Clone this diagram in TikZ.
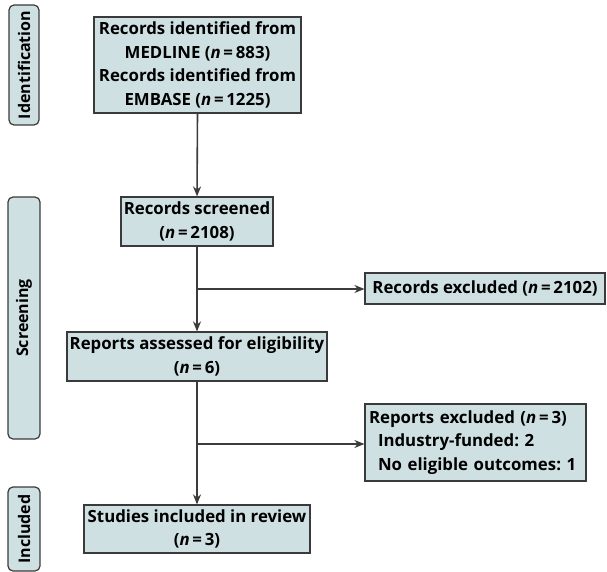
\documentclass[tikz,border=0pt]{standalone}
\usepackage{fontspec}
\setmainfont{Open Sans}
\usetikzlibrary{arrows.meta}
\frenchspacing
\definecolor{boxfill}{HTML}{CFE0E3}
\definecolor{boxline}{HTML}{3A3A3A}
\definecolor{arrowc}{HTML}{3C3C3C}
\tikzset{
  box/.style={draw=boxline, fill=boxfill, line width=1.2pt, inner sep=0pt,
    font=\fontsize{16.8}{23.5}\selectfont\bfseries, align=center},
  phase/.style={draw=boxline, fill=boxfill, line width=1.2pt, rounded corners=5pt,
    inner sep=0pt, font=\fontsize{16}{18}\selectfont\bfseries, rotate=90},
  arr/.style={draw=arrowc, line width=1.6pt, -{Stealth[length=10pt,width=8pt]}},
  ln/.style={draw=arrowc, line width=1.6pt}
}
\newcommand{\nn}{\textit{n}\,=\,}
\begin{document}
\begin{tikzpicture}[x=1pt,y=-1pt]
\useasboundingbox (0,0) rectangle (607,572);
% phase labels
\node[phase, minimum width=120pt, minimum height=30pt] (pid) at (24,65) {Identification};
\node[phase, minimum width=242pt, minimum height=32pt] (psc) at (24,318) {Screening};
\node[phase, minimum width=84pt, minimum height=32pt] (pin) at (24,529) {Included};
% main boxes
\node[box, minimum width=207pt, minimum height=96pt] (ident) at (197.5,65)
  {Records identified from\\MEDLINE (\nn 883)\\Records identified from\\EMBASE (\nn 1225)};
\node[box, minimum width=152pt, minimum height=49pt] (screen) at (197,221.5)
  {Records screened\\(\nn 2108)};
\node[box, minimum width=240pt, minimum height=31pt] (excl1) at (485,288.5)
  {Records excluded (\nn 2102)};
\node[box, minimum width=260pt, minimum height=49pt] (assess) at (197,356.5)
  {Reports assessed for eligibility\\(\nn 6)};
\node[box, minimum width=221pt, minimum height=77pt, align=left, text width=213pt] (excl2) at (475.5,442.5)
  {Reports excluded (\nn 3)\\\hspace*{9pt}Industry-funded: 2\\\hspace*{9pt}No eligible outcomes: 1};
\node[box, minimum width=226pt, minimum height=48pt] (incl) at (197,529)
  {Studies included in review\\(\nn 3)};
% connectors
\coordinate (b1) at (197,289);
\coordinate (b2) at (197,444);
\draw[arr] (ident.south) -- (screen.north);
\draw[arr] (screen.south) -- (assess.north);
\draw[arr] (b1) -- (excl1.west |- b1);
\draw[arr] (assess.south) -- (incl.north);
\draw[arr] (b2) -- (excl2.west |- b2);
\end{tikzpicture}
\end{document}
